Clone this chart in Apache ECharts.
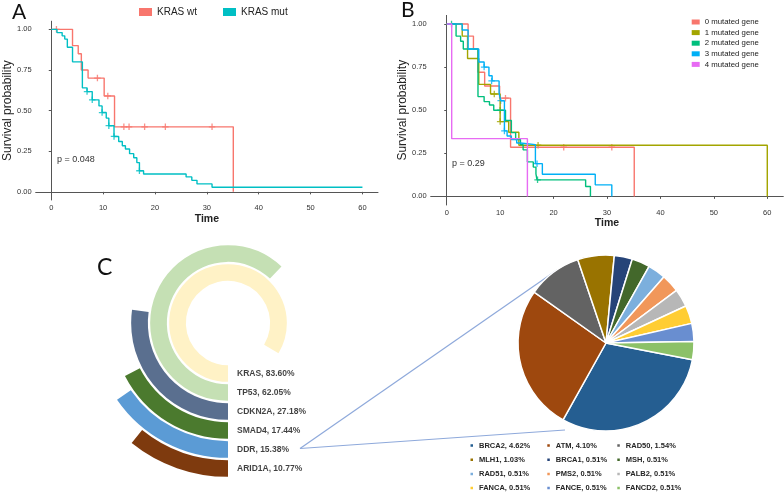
<!DOCTYPE html>
<html><head><meta charset="utf-8">
<script src="https://cdn.jsdelivr.net/npm/echarts@6/dist/echarts.min.js"></script>
<style>html,body{margin:0;padding:0;background:#fff}#c{width:784px;height:494px}</style>
</head><body><div id="c"></div>
<script>
// ---------- Panel A : KRAS ----------
const xTicks = [0, 10, 20, 30, 40, 50, 60];
const yTicks = [0, 0.25, 0.5, 0.75, 1];
const krasWt = [[0,1],[4.1,0.90],[5.2,0.85],[5.8,0.75],[7.1,0.70],[10.2,0.59],[12.2,0.40],[35.1,0]];
const krasWtCensor = [[1.0,1.0],[8.9,0.70],[10.9,0.59],[14,0.40],[15,0.40],[18,0.40],[22,0.40],[31,0.40]];
const krasMut = [[0,1],[1.1,0.98],[2.1,0.96],[2.6,0.94],[3.1,0.89],[4.1,0.80],[6.0,0.64],[6.9,0.617],[7.9,0.566],
  [9.2,0.529],[9.8,0.488],[10.6,0.454],[11.1,0.407],[12.1,0.341],[13.0,0.31],[13.7,0.284],[14.3,0.264],[15.1,0.235],
  [15.9,0.21],[16.5,0.18],[17.0,0.13],[17.8,0.11],[26.0,0.092],[27.1,0.071],[28.1,0.049],[31.0,0.028],[60,0.028]];
const krasMutCensor = [[6.9,0.617],[7.9,0.566],[9.8,0.488],[11.1,0.407],[12.1,0.341],[17.0,0.13]];
const pA = 'p = 0.048';

// ---------- Panel B : number of mutated genes ----------
const mut0 = [[0,1],[4.0,0.93],[5.0,0.855],[5.85,0.72],[7.1,0.64],[9.9,0.57],[11.95,0.285],[35.1,0]];
const mut0Censor = [[11.0,0.57],[21.9,0.285],[30.9,0.285]];
const mut1 = [[0,1],[2.9,0.93],[3.9,0.80],[6.0,0.65],[8.2,0.594],[10.0,0.434],[11.6,0.372],[13.5,0.297],[60,0]];
const mut1Censor = [[8.9,0.594],[10.0,0.434],[17.1,0.297]];
const mut2 = [[0,1],[1.75,0.93],[2.6,0.90],[3.1,0.855],[5.85,0.579],[7.0,0.55],[8.0,0.53],[8.8,0.50],[11.0,0.44],
  [12.1,0.37],[12.9,0.33],[13.8,0.30],[14.3,0.27],[15.1,0.20],[16.2,0.17],[16.7,0.13],[16.9,0.096],[26.0,0.057],[26.9,0]];
const mut2Censor = [[0.9,1.0],[10.0,0.50],[17.0,0.096]];
const mut3 = [[0,1],[2.9,0.965],[4.0,0.855],[6.0,0.78],[7.0,0.75],[7.9,0.70],[8.5,0.67],[9.8,0.60],[10.1,0.555],
  [10.8,0.38],[11.3,0.35],[12.1,0.33],[13.1,0.31],[13.8,0.30],[16.6,0.19],[17.9,0.128],[27.8,0.067],[30.9,0]];
const mut3Censor = [[7.0,0.75],[8.4,0.67],[10.1,0.555],[10.8,0.38],[16.9,0.19]];
const mut4 = [[0,1],[0.93,0.335],[15.1,0]];
const mutNames = ['0 mutated gene','1 mutated gene','2 mutated gene','3 mutated gene','4 mutated gene'];
const pB = 'p = 0.29';

// ---------- Panel C ----------
const geneNames = ['KRAS','TP53','CDKN2A','SMAD4','DDR','ARID1A'];
const genePct = [83.60, 62.05, 27.18, 17.44, 15.38, 10.77];
const ddrNames = ['BRCA2','ATM','RAD50','MLH1','BRCA1','MSH','RAD51','PMS2','PALB2','FANCA','FANCE','FANCD2'];
const ddrPct = [4.62, 4.10, 1.54, 1.03, 0.51, 0.51, 0.51, 0.51, 0.51, 0.51, 0.51, 0.51];

// ---------- styles ----------
const colA = ['#F8766D', '#00BFC4'];
const colB = ['#F8766D', '#A3A500', '#00BF7D', '#00B0F6', '#E76BF3'];
const geneColors = ['#FFF2C6', '#C5E0B4', '#5A6F8F', '#4B7A2E', '#5B9BD5', '#7E3A0E'];
const ddrColors = ['#255E91','#9E480E','#636363','#997300','#264478','#43682B','#7CAFDD','#F1975A','#B7B7B7','#FFCD33','#698ED0','#8CC168'];
const plus = 'path://M4,0h2v4h4v2h-4v4h-2v-4h-4v-2h4z';
const FONT = 'Liberation Sans, Arial, sans-serif';

function kmLine(name, data, color, idx) {
  return { name, type: 'line', step: 'end', xAxisIndex: idx, yAxisIndex: idx, data,
    symbol: 'none', lineStyle: { color, width: 1.4 }, itemStyle: { color }, silent: true };
}
function kmCensor(name, data, color, idx) {
  return { name, type: 'scatter', xAxisIndex: idx, yAxisIndex: idx, data,
    symbol: plus, symbolSize: 6.5, itemStyle: { color }, silent: true };
}
function xAx(gi) {
  return { type: 'value', gridIndex: gi, min: -3, max: 63,
    name: 'Time', nameLocation: 'middle', nameGap: gi === 0 ? 14 : 12,
    nameTextStyle: { fontFamily: FONT, fontSize: 10.5, fontWeight: 'bold', color: '#222' },
    axisLine: { show: true, lineStyle: { color: '#555', width: 1 } },
    axisTick: { show: true, length: 2.5, customValues: xTicks, lineStyle: { color: '#555' } },
    axisLabel: { customValues: xTicks, margin: 4, fontSize: 7.5, fontFamily: FONT, color: '#333' },
    splitLine: { show: false } };
}
function yAx(gi) {
  return { type: 'value', gridIndex: gi, min: -0.05, max: 1.05,
    name: 'Survival probability', nameLocation: 'middle', nameGap: gi === 0 ? 19 : 21,
    nameTextStyle: { fontFamily: FONT, fontSize: 12, color: '#222' },
    axisLine: { show: true, lineStyle: { color: '#555', width: 1 } },
    axisTick: { show: true, length: 2.5, customValues: yTicks, lineStyle: { color: '#555' } },
    axisLabel: { customValues: yTicks, margin: 4, fontSize: 7.5, fontFamily: FONT, color: '#333',
      formatter: v => v.toFixed(2) },
    splitLine: { show: false } };
}

const series = [
  kmLine('KRAS wt', krasWt, colA[0], 0),
  kmLine('KRAS mut', krasMut, colA[1], 0),
  kmCensor('wt censor', krasWtCensor, colA[0], 0),
  kmCensor('mut censor', krasMutCensor, colA[1], 0)
];
const bLines = [mut0, mut1, mut2, mut3, mut4];
const bCens = [mut0Censor, mut1Censor, mut2Censor, mut3Censor, []];
bLines.forEach((d, i) => series.push(kmLine(mutNames[i], d, colB[i], 1)));
bCens.forEach((d, i) => { if (d.length) series.push(kmCensor(mutNames[i] + ' censor', d, colB[i], 1)); });

// radial bars
series.push({
  type: 'bar', coordinateSystem: 'polar', barCategoryGap: '12%', silent: true,
  data: genePct.map((v, i) => ({ value: v, itemStyle: { color: geneColors[i] } }))
});
series.push({
  type: 'scatter', coordinateSystem: 'polar', symbolSize: 0, silent: true,
  data: geneNames.map((n, i) => [i, 0]),
  label: { show: true, position: 'right', distance: 9, fontFamily: FONT, fontSize: 8.5, fontWeight: 'bold',
    color: '#111', formatter: p => geneNames[p.dataIndex] + ', ' + genePct[p.dataIndex].toFixed(2) + '%' }
});
// DDR pie
series.push({
  type: 'pie', center: [606, 343], radius: 88, startAngle: -11, clockwise: true, silent: true,
  label: { show: false }, labelLine: { show: false },
  itemStyle: { borderColor: '#fff', borderWidth: 1.5 },
  data: ddrNames.map((n, i) => ({ name: n, value: ddrPct[i], itemStyle: { color: ddrColors[i] } }))
});

const pieLegends = [0, 1, 2].map(c => ({
  orient: 'vertical', left: [468.5, 545.3, 615.3][c], top: 441, icon: 'rect', itemWidth: 4.5, itemHeight: 4.5,
  itemGap: 5.2, selectedMode: false,
  data: ddrNames.filter((n, i) => i % 3 === c),
  formatter: n => n + ', ' + ddrPct[ddrNames.indexOf(n)].toFixed(2) + '%',
  textStyle: { fontFamily: FONT, fontSize: 7.5, fontWeight: 'bold', color: '#262626', lineHeight: 9, padding: [0, 0, 0, 0] },
  padding: 0
}));

const option = {
  animation: false,
  backgroundColor: '#fff',
  grid: [
    { left: 35.7, top: 21.2, width: 342.3, height: 178.8, outerBoundsMode: 'none' },
    { left: 430.7, top: 15.4, width: 352.6, height: 189.6, outerBoundsMode: 'none' }
  ],
  xAxis: [xAx(0), xAx(1)],
  yAxis: [yAx(0), yAx(1)],
  polar: { center: [228, 323], radius: [41, 155] },
  angleAxis: { type: 'value', min: 0, max: 100, startAngle: 270, clockwise: true, show: false,
    axisLine: { show: false }, splitLine: { show: false }, axisTick: { show: false }, axisLabel: { show: false } },
  radiusAxis: { type: 'category', data: geneNames, show: false,
    axisLine: { show: false }, axisTick: { show: false }, axisLabel: { show: false } },
  legend: [
    { data: ['KRAS wt', 'KRAS mut'], left: 139, top: 7, icon: 'rect', itemWidth: 13, itemHeight: 8, itemGap: 26,
      selectedMode: false, padding: 0, textStyle: { fontFamily: FONT, fontSize: 10, color: '#222' } },
    { data: mutNames, orient: 'vertical', left: 691.7, top: 17, icon: 'rect', itemWidth: 8, itemHeight: 5,
      itemGap: 0.6, selectedMode: false, padding: 0,
      textStyle: { fontFamily: FONT, fontSize: 7.8, color: '#222', lineHeight: 10 } },
    ...pieLegends
  ],
  graphic: [
    { type: 'text', left: 12, top: 2, style: { text: 'A', fontFamily: 'Lato, sans-serif', fontSize: 21, fill: '#111' } },
    { type: 'text', left: 401, top: 0, style: { text: 'B', fontFamily: 'Lato, sans-serif', fontSize: 21, fill: '#111' } },
    { type: 'text', left: 97, top: 256, style: { text: 'C', fontFamily: 'Lato, sans-serif', fontSize: 23, fill: '#111' } },
    { type: 'text', left: 57, top: 155, style: { text: pA, fontFamily: FONT, fontSize: 9, fill: '#333' } },
    { type: 'text', left: 452, top: 159, style: { text: pB, fontFamily: FONT, fontSize: 9, fill: '#333' } },
    { type: 'line', shape: { x1: 300, y1: 448.5, x2: 557, y2: 270 }, style: { stroke: '#8EA9DB', lineWidth: 1.2 } },
    { type: 'line', shape: { x1: 300, y1: 448.5, x2: 565, y2: 430 }, style: { stroke: '#8EA9DB', lineWidth: 1.2 } }
  ],
  series
};
const chart = echarts.init(document.getElementById('c'), null, { renderer: 'canvas' });
chart.setOption(option);
</script></body></html>
